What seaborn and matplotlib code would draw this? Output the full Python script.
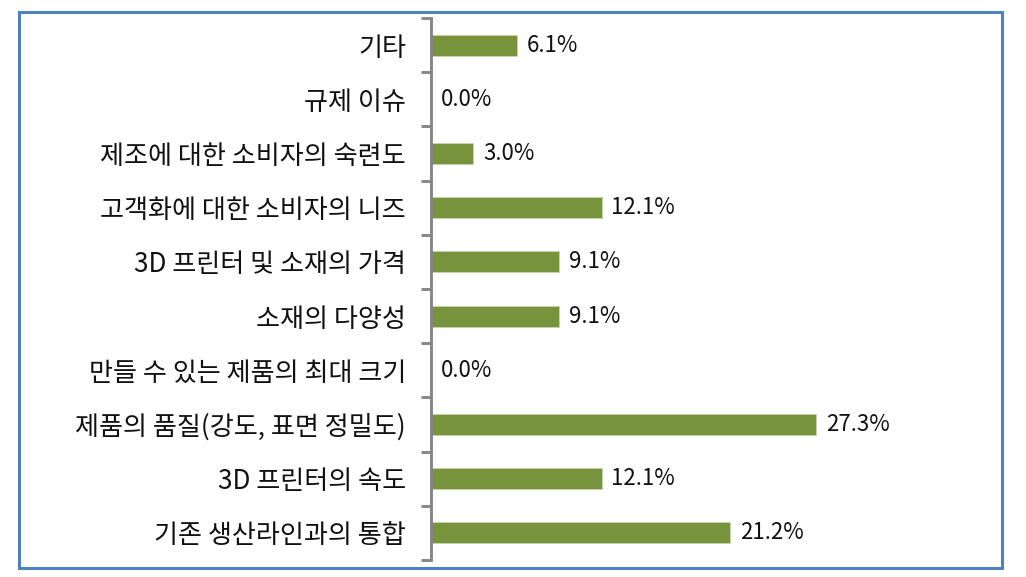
import matplotlib
matplotlib.use("Agg")
import matplotlib.pyplot as plt
import matplotlib.patches as mpatches
from matplotlib.ticker import FixedLocator
import seaborn as sns
import pandas as pd
import numpy as np

categories = [
    "기타",
    "규제 이슈",
    "제조에 대한 소비자의 숙련도",
    "고객화에 대한 소비자의 니즈",
    "3D 프린터 및 소재의 가격",
    "소재의 다양성",
    "만들 수 있는 제품의 최대 크기",
    "제품의 품질(강도, 표면 정밀도)",
    "3D 프린터의 속도",
    "기존 생산라인과의 통합",
]
values = [6.1, 0.0, 3.0, 12.1, 9.1, 9.1, 0.0, 27.3, 12.1, 21.2]
value_labels = ["6.1%", "0.0%", "3.0%", "12.1%", "9.1%", "9.1%", "0.0%", "27.3%", "12.1%", "21.2%"]

sns.set_theme(style="white")
plt.rcParams["font.family"] = ["Noto Sans CJK KR", "DejaVu Sans"]

df = pd.DataFrame({"category": categories, "value": values})

fig = plt.figure(figsize=(10.26, 5.77), dpi=100)
ax = fig.add_axes([431 / 1026, 1 - 560 / 577, (995 - 431) / 1026, (560 - 18) / 577])

sns.barplot(data=df, x="value", y="category", orient="h", color="#77933C",
            saturation=1, width=0.39, ax=ax, edgecolor="#c8d3b0", linewidth=0.6)

ax.set_xlim(0, 40)
ax.set_ylim(len(categories) - 0.5, -0.5)
ax.set_xlabel("")
ax.set_ylabel("")
ax.set_xticks([])

for s in ["top", "right", "bottom"]:
    ax.spines[s].set_visible(False)
ax.spines["left"].set_color("#868686")
ax.spines["left"].set_linewidth(2.1)

ax.yaxis.set_minor_locator(FixedLocator(np.arange(-0.5, len(categories) + 0.5, 1.0)))
ax.tick_params(axis="y", which="major", length=0, pad=18, labelsize=18.8, labelcolor="#111111")
ax.tick_params(axis="y", which="minor", length=7, width=2.1, color="#868686", left=True)

for i, (v, lab) in enumerate(zip(values, value_labels)):
    ax.annotate(lab, xy=(v, i), xytext=(7, 0), textcoords="offset points",
                ha="left", va="center", fontsize=16, color="#111111")

border = mpatches.Rectangle((19 / 1026, 1 - 568 / 577), (1002 - 19) / 1026, (568 - 12) / 577,
                            transform=fig.transFigure, fill=False,
                            edgecolor="#4F81BD", linewidth=2.2)
fig.patches.append(border)

fig.savefig("out.png", dpi=100)
